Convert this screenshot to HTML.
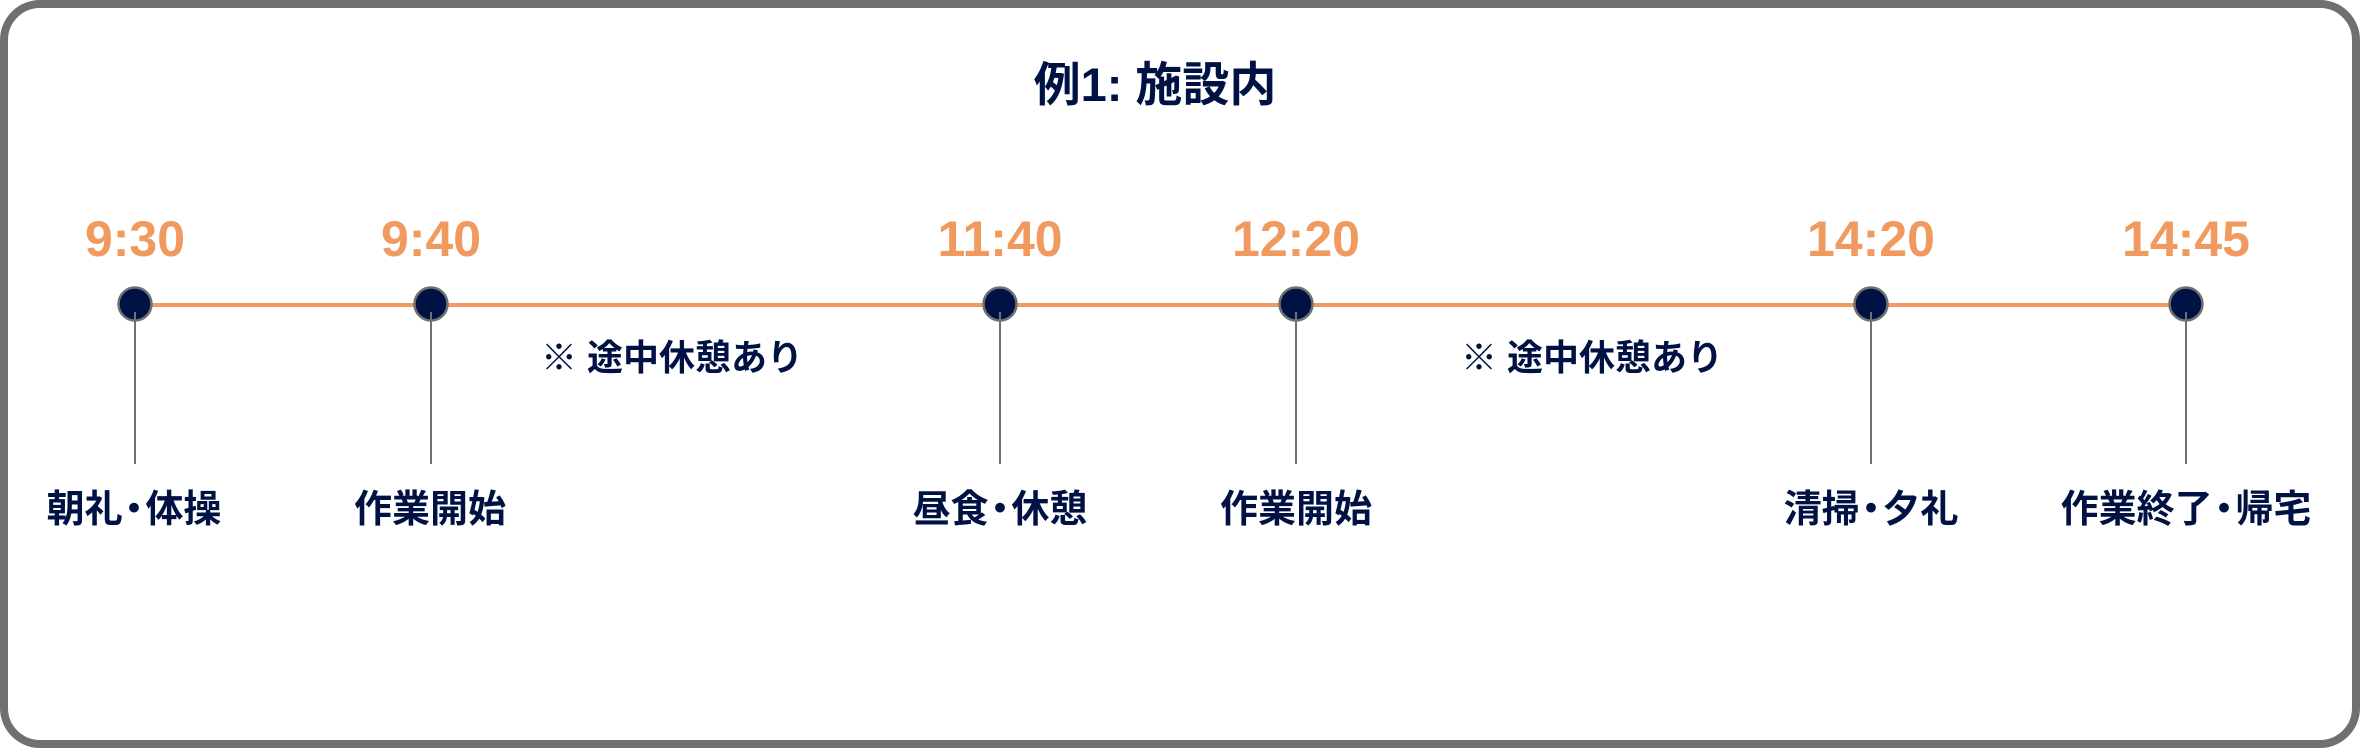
<!DOCTYPE html>
<html><head><meta charset="utf-8"><style>
html,body{margin:0;padding:0;background:#fff;}
body{width:2360px;height:748px;position:relative;overflow:hidden;font-family:"Liberation Sans","Noto Sans CJK JP",sans-serif;}
.frame{position:absolute;left:0;top:0;width:2344px;height:732px;border:8px solid #707070;border-radius:40px;}
.t{position:absolute;transform:translateX(-50%);white-space:nowrap;}
.title{top:58px;font-size:47px;font-weight:bold;color:#001244;line-height:54px;}
.time{top:210px;font-size:50px;font-weight:bold;color:#F09A5F;line-height:58px;}
.lab{top:486px;font-size:38px;font-weight:bold;color:#001244;line-height:48px;}
.note{top:336px;font-size:36px;font-weight:bold;color:#001244;line-height:44px;}
.d{display:inline-block;margin:0 -0.2em;}
</style></head><body>
<div class="frame"></div>
<svg width="2360" height="748" style="position:absolute;left:0;top:0">
<line x1="135" y1="305" x2="2186" y2="305" stroke="#F09A5F" stroke-width="4"/>
<g stroke="#707070" stroke-width="2">
<line x1="135" y1="305" x2="135" y2="464"/>
<line x1="431" y1="305" x2="431" y2="464"/>
<line x1="1000" y1="305" x2="1000" y2="464"/>
<line x1="1296" y1="305" x2="1296" y2="464"/>
<line x1="1871" y1="305" x2="1871" y2="464"/>
<line x1="2186" y1="305" x2="2186" y2="464"/>
</g>
<g fill="#001244" stroke="#707070" stroke-width="2.5">
<circle cx="135" cy="304" r="16.5"/>
<circle cx="431" cy="304" r="16.5"/>
<circle cx="1000" cy="304" r="16.5"/>
<circle cx="1296" cy="304" r="16.5"/>
<circle cx="1871" cy="304" r="16.5"/>
<circle cx="2186" cy="304" r="16.5"/>
</g>
<g stroke="#707070" stroke-width="2">
<line x1="135" y1="312" x2="135" y2="322"/><line x1="431" y1="312" x2="431" y2="322"/>
<line x1="1000" y1="312" x2="1000" y2="322"/><line x1="1296" y1="312" x2="1296" y2="322"/>
<line x1="1871" y1="312" x2="1871" y2="322"/><line x1="2186" y1="312" x2="2186" y2="322"/>
</g>
</svg>
<div class="t title" style="left:1155px">例1: 施設内</div>
<div class="t time" style="left:135px">9:30</div>
<div class="t time" style="left:431px">9:40</div>
<div class="t time" style="left:1000px">11:40</div>
<div class="t time" style="left:1296px">12:20</div>
<div class="t time" style="left:1871px">14:20</div>
<div class="t time" style="left:2186px">14:45</div>
<div class="t note" style="left:672px">※ 途中休憩あり</div>
<div class="t note" style="left:1592px">※ 途中休憩あり</div>
<div class="t lab" style="left:134px">朝礼<span class="d">・</span>体操</div>
<div class="t lab" style="left:430px">作業開始</div>
<div class="t lab" style="left:1000px">昼食<span class="d">・</span>休憩</div>
<div class="t lab" style="left:1296px">作業開始</div>
<div class="t lab" style="left:1871px">清掃<span class="d">・</span>夕礼</div>
<div class="t lab" style="left:2186px">作業終了<span class="d">・</span>帰宅</div>
</body></html>
